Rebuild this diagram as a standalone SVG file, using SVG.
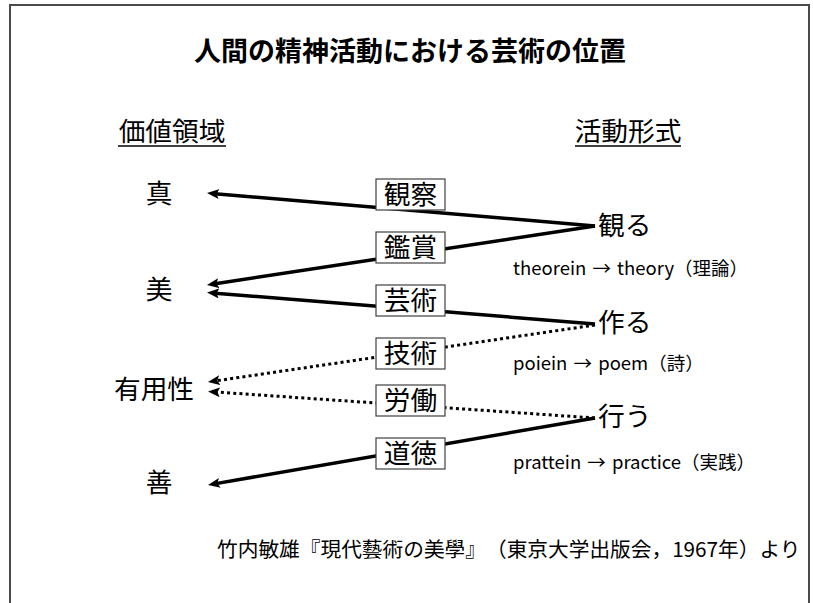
<svg xmlns="http://www.w3.org/2000/svg" width="813" height="603" viewBox="0 0 813 603">
<style>
text{font-family:"Noto Sans CJK JP","Noto Sans",sans-serif;fill:#000;text-spacing-trim:space-all}
.t{font-size:27px;font-weight:bold}
.h{font-size:26.7px}
.l{font-size:26.7px}
.e{font-size:18.5px;word-spacing:2px}
.f{font-size:20.7px}
.box{fill:#fff;stroke:#404040;stroke-width:1.2}
.c{stroke:#000;stroke-width:3.5;fill:none;marker-end:url(#ah)}
.d{stroke:#000;stroke-width:3;fill:none;stroke-dasharray:3 3.2;marker-end:url(#ah)}
</style>
<defs>
<marker id="ah" markerUnits="userSpaceOnUse" viewBox="0 0 12 10" refX="7" refY="5" markerWidth="12" markerHeight="10" orient="auto">
<path d="M0,0 L12,5 L0,10 L2.5,5 z" fill="#000"/>
</marker>
</defs>
<rect x="10" y="5" width="799" height="620" fill="#fff" stroke="#4a4a4a" stroke-width="2"/>
<text class="t" x="410" y="61" text-anchor="middle">人間の精神活動における芸術の位置</text>
<g id="header-left"><text class="h" x="172" y="141" text-anchor="middle">価値領域</text><line x1="118" y1="146" x2="226" y2="146" stroke="#000" stroke-width="1.5"/></g>
<g id="header-right"><text class="h" x="628" y="141" text-anchor="middle">活動形式</text><line x1="575" y1="146" x2="681" y2="146" stroke="#000" stroke-width="1.5"/></g>
<g id="connectors">
<line class="c" x1="595" y1="226" x2="212" y2="193.4"/>
<line class="c" x1="595" y1="226" x2="211.9" y2="284.2"/>
<line class="c" x1="595" y1="324" x2="212" y2="292.9"/>
<line class="d" x1="595" y1="325" x2="212.9" y2="381.3"/>
<line class="d" x1="595" y1="418" x2="213" y2="391.8"/>
<line class="c" x1="595" y1="418" x2="212.9" y2="484.1"/>
</g>
<g id="v-shin"><text class="l" x="159" y="203" text-anchor="middle">真</text></g>
<g id="v-bi"><text class="l" x="159" y="299" text-anchor="middle">美</text></g>
<g id="v-yoyo"><text class="l" x="154" y="399" text-anchor="middle">有用性</text></g>
<g id="v-zen"><text class="l" x="159" y="492" text-anchor="middle">善</text></g>
<g id="b-kansatsu"><rect class="box" x="376" y="179" width="69" height="31"/><text class="l" x="410.5" y="204" text-anchor="middle">観察</text></g>
<g id="b-kansho"><rect class="box" x="376" y="232" width="69" height="31"/><text class="l" x="410.5" y="257" text-anchor="middle">鑑賞</text></g>
<g id="b-geijutsu"><rect class="box" x="376" y="285" width="69" height="31"/><text class="l" x="410.5" y="310" text-anchor="middle">芸術</text></g>
<g id="b-gijutsu"><rect class="box" x="376" y="338" width="69" height="31"/><text class="l" x="410.5" y="363" text-anchor="middle">技術</text></g>
<g id="b-rodo"><rect class="box" x="376" y="385" width="69" height="31"/><text class="l" x="410.5" y="410" text-anchor="middle">労働</text></g>
<g id="b-dotoku"><rect class="box" x="376" y="438" width="69" height="31"/><text class="l" x="410.5" y="463" text-anchor="middle">道徳</text></g>
<g id="a-miru"><text class="l" x="598" y="235">観る</text><text class="e" x="513" y="275">theorein → theory（理論）</text></g>
<g id="a-tsukuru"><text class="l" x="598" y="332">作る</text><text class="e" x="513" y="370">poiein → poem（詩）</text></g>
<g id="a-okonau"><text class="l" x="598" y="426">行う</text><text class="e" x="513" y="469">prattein → practice（実践）</text></g>
<text class="f" x="217" y="557">竹内敏雄『現代藝術の美學』（東京大学出版会，1967年）より</text>
</svg>
